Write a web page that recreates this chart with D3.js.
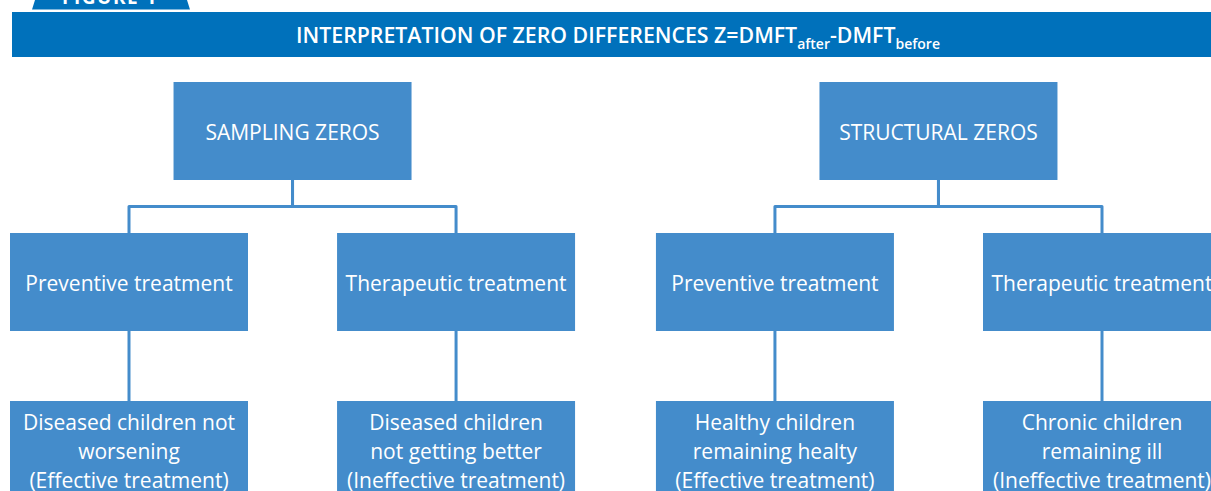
<html>

<head>
    <meta charset="UTF-8">
    <script src="https://d3js.org/d3.v7.min.js"></script>
    <style>
        body { margin: 0; overflow: hidden; background: #fff; }
        text { font-family: "Open Sans", sans-serif; }
    </style>
</head>

<body>

</body>
<script>
    // chart texts
    var figureLabel = "FIGURE 1";
    var titleParts = ["INTERPRETATION OF ZERO DIFFERENCES Z=DMFT", "after", "-DMFT", "before"];
    var groups = ["SAMPLING ZEROS", "STRUCTURAL ZEROS"];
    var treatments = ["Preventive treatment", "Therapeutic treatment"];
    var outcomes = [
        ["Diseased children not", "worsening", "(Effective treatment)"],
        ["Diseased children", "not getting better", "(Ineffective treatment)"],
        ["Healthy children", "remaining healty", "(Effective treatment)"],
        ["Chronic children", "remaining ill", "(Ineffective treatment)"]
    ];

    var width = 1211, height = 491,
        boxW = 238, boxH = 98,
        headerColor = "#0071bb", boxColor = "#448ccb";

    var svg = d3.select("body")
        .append("svg")
        .attr("width", width)
        .attr("height", height);

    // build the tree: hidden root -> groups -> treatments -> outcomes
    var k = 0;
    var treeData = {
        name: "root",
        children: groups.map(function (g) {
            return {
                name: g,
                children: treatments.map(function (t) {
                    return { name: t, children: [{ name: outcomes[k++].join("\n") }] };
                })
            };
        })
    };

    var root = d3.hierarchy(treeData);
    // the gap between the two groups is a bit tighter than inside a group
    d3.tree().size([1, 1]).separation(function (a, b) {
        return a.parent === b.parent ? 1 : 0.975;
    })(root);

    var x = d3.scaleLinear()
        .domain(d3.extent(root.leaves(), function (d) { return d.x; }))
        .range([boxW / 2 + 10, width + 10 - boxW / 2]);

    // top of box for each depth
    var y = d3.scaleOrdinal()
        .domain([1, 2, 3])
        .range([82, 233, 401]);

    var nodes = root.descendants().filter(function (d) { return d.depth > 0; });
    var links = root.links().filter(function (l) { return l.source.depth > 0; });

    // header tab
    var tab = svg.append("g");
    tab.append("path")
        .attr("d", "M32,9.5L35,0L187,0L190,9.5Z")
        .attr("fill", headerColor);
    tab.append("text")
        .attr("x", 110)
        .attr("y", 4)
        .attr("text-anchor", "middle")
        .attr("fill", "#fff")
        .style("font-size", "19px")
        .style("font-weight", 700)
        .style("letter-spacing", "1.5px")
        .text(figureLabel);

    // title bar
    svg.append("rect")
        .attr("x", 12)
        .attr("y", 12)
        .attr("width", width - 12)
        .attr("height", 45)
        .attr("fill", headerColor);

    var title = svg.append("text")
        .attr("x", 618)
        .attr("y", 43)
        .attr("text-anchor", "middle")
        .attr("fill", "#fff")
        .style("font-size", "21.3px")
        .style("font-weight", 600);
    title.append("tspan").text(titleParts[0]);
    title.append("tspan").attr("dy", 6).style("font-size", "14px").text(titleParts[1]);
    title.append("tspan").attr("dy", -6).text(titleParts[2]);
    title.append("tspan").attr("dy", 6).style("font-size", "14px").text(titleParts[3]);

    // connectors
    svg.selectAll(".link")
        .data(links)
        .enter()
        .append("path")
        .attr("class", "link")
        .attr("d", function (l) {
            var x0 = x(l.source.x), y0 = y(l.source.depth) + boxH,
                x1 = x(l.target.x), y1 = y(l.target.depth),
                ym = (y0 + y1) / 2;
            return "M" + x0 + "," + y0 + "V" + ym + "H" + x1 + "V" + y1;
        })
        .style("fill", "none")
        .style("stroke", boxColor)
        .style("stroke-width", 3)
        .style("stroke-linejoin", "round");

    // boxes
    var node = svg.selectAll(".node")
        .data(nodes)
        .enter()
        .append("g")
        .attr("class", "node")
        .attr("transform", function (d) {
            return "translate(" + [x(d.x) - boxW / 2, y(d.depth)] + ")";
        });

    node.append("rect")
        .attr("width", boxW)
        .attr("height", function (d) { return d.depth === 3 ? 104 : boxH; })
        .attr("fill", boxColor);

    node.append("text")
        .attr("text-anchor", "middle")
        .attr("fill", "#fff")
        .style("font-size", "21px")
        .each(function (d) {
            var lines = d.data.name.split("\n");
            var h = d.depth === 3 ? 104 : boxH;
            var el = d3.select(this);
            lines.forEach(function (line, i) {
                el.append("tspan")
                    .attr("x", boxW / 2)
                    .attr("y", h / 2 + (i - (lines.length - 1) / 2) * 29)
                    .attr("dy", d.depth === 3 ? "0.3em" : "0.42em")
                    .text(line);
            });
        });

</script>

</html>
